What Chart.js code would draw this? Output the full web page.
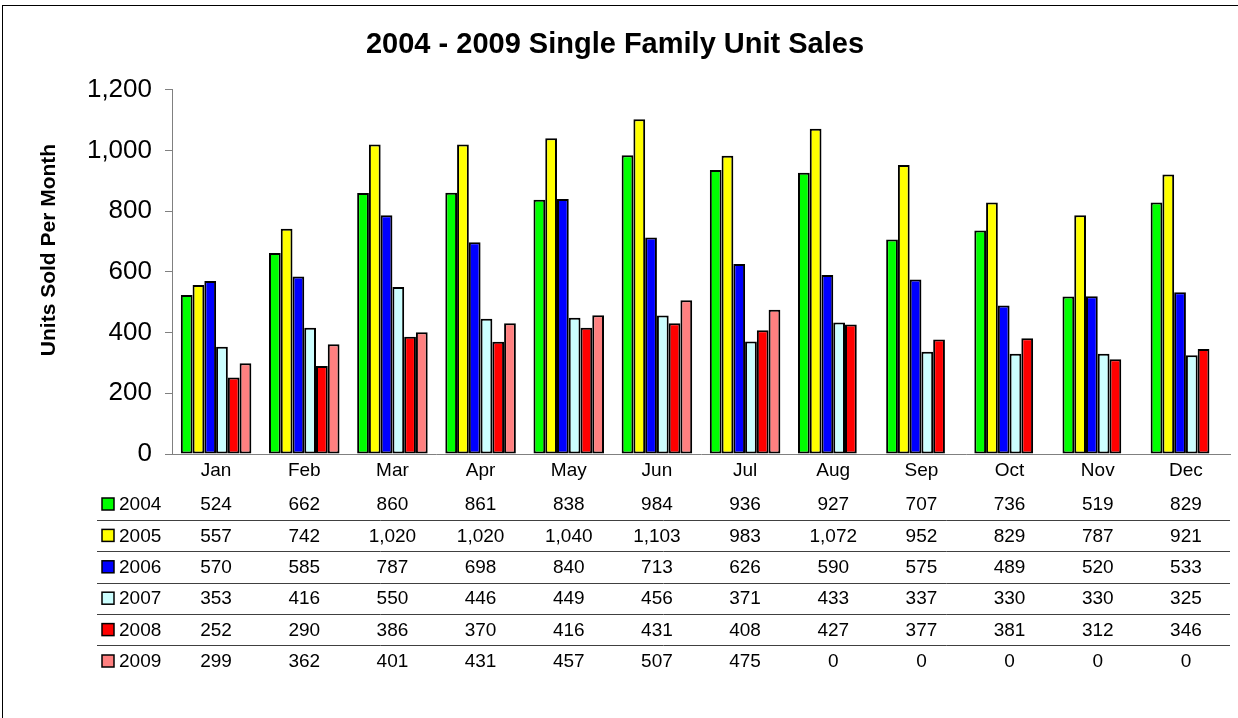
<!DOCTYPE html>
<html>
<head>
<meta charset="utf-8">
<script src="https://cdn.jsdelivr.net/npm/chart.js@4.4.1/dist/chart.umd.min.js"></script>
<style>
  html, body { margin: 0; padding: 0; background: #fff; overflow: hidden; }
  #wrap { position: relative; width: 1238px; height: 718px; }
  #frame { position: absolute; left: 2px; top: 5px; width: 1260px; height: 740px; border: 1.5px solid #000; box-sizing: border-box; pointer-events: none; }
</style>
</head>
<body>
<div id="wrap">
  <canvas id="chart" width="1238" height="718"></canvas>
  <div id="frame"></div>
</div>
<script>
// --- datos del grafico ---
const months = ['Jan', 'Feb', 'Mar', 'Apr', 'May', 'Jun', 'Jul', 'Aug', 'Sep', 'Oct', 'Nov', 'Dec'];
const years = ['2004', '2005', '2006', '2007', '2008', '2009'];
const sales2004 = [524, 662, 860, 861, 838, 984, 936, 927, 707, 736, 519, 829];
const sales2005 = [557, 742, 1020, 1020, 1040, 1103, 983, 1072, 952, 829, 787, 921];
const sales2006 = [570, 585, 787, 698, 840, 713, 626, 590, 575, 489, 520, 533];
const sales2007 = [353, 416, 550, 446, 449, 456, 371, 433, 337, 330, 330, 325];
const sales2008 = [252, 290, 386, 370, 416, 431, 408, 427, 377, 381, 312, 346];
const sales2009 = [299, 362, 401, 431, 457, 507, 475, 0, 0, 0, 0, 0];
const yTicks = [0, 200, 400, 600, 800, 1000, 1200];

const seriesValues = [sales2004, sales2005, sales2006, sales2007, sales2008, sales2009];
const seriesColors = ['#00FF00', '#FFFF00', '#0000FF', '#CCFFFF', '#FF0000', '#FF8080'];

const FONT = 'Arial, "Liberation Sans", sans-serif';
const fmt = v => v.toLocaleString('en-US');

// titulo del eje Y (un poco por encima del centro, como en el original)
const yTitlePlugin = {
  id: 'yTitle',
  afterDraw(chart) {
    const ctx = chart.ctx;
    ctx.save();
    ctx.translate(49, 250);
    ctx.rotate(-Math.PI / 2);
    ctx.font = 'bold 21px ' + FONT;
    ctx.fillStyle = '#000';
    ctx.textAlign = 'center';
    ctx.textBaseline = 'middle';
    ctx.fillText('Units Sold Per Month', 0, 0);
    ctx.restore();
  }
};

// tabla de datos debajo del eje X (leyenda + valores)
const dataTablePlugin = {
  id: 'dataTable',
  afterDraw(chart) {
    const ctx = chart.ctx;
    const x = chart.scales.x;
    const area = chart.chartArea;
    const firstRow = area.bottom + 50;
    const rowH = 31.4;
    ctx.save();
    ctx.font = '19px ' + FONT;
    ctx.textBaseline = 'middle';
    chart.data.datasets.forEach((ds, i) => {
      const y = firstRow + i * rowH;
      // cuadrito de color
      ctx.fillStyle = ds.backgroundColor;
      ctx.fillRect(102, y - 6, 12, 12);
      ctx.strokeStyle = '#000';
      ctx.lineWidth = 1.5;
      ctx.strokeRect(102, y - 6, 12, 12);
      ctx.fillStyle = '#000';
      ctx.textAlign = 'left';
      ctx.fillText(ds.label, 119, y + 1);
      ctx.textAlign = 'center';
      ds.data.forEach((v, j) => {
        ctx.fillText(fmt(v), x.getPixelForValue(j), y + 1);
      });
      // linea separadora
      if (i < chart.data.datasets.length - 1) {
        ctx.strokeStyle = '#404040';
        ctx.lineWidth = 1;
        ctx.beginPath();
        ctx.moveTo(97, Math.round(y + rowH / 2) + 0.5);
        ctx.lineTo(area.right, Math.round(y + rowH / 2) + 0.5);
        ctx.stroke();
      }
    });
    ctx.restore();
  }
};

new Chart(document.getElementById('chart'), {
  type: 'bar',
  data: {
    labels: months,
    datasets: years.map((yr, i) => ({
      label: yr,
      data: seriesValues[i],
      backgroundColor: seriesColors[i],
      borderColor: '#000',
      borderWidth: 2,
      borderSkipped: false,
      barPercentage: 1,
      categoryPercentage: 0.8
    }))
  },
  options: {
    responsive: false,
    animation: false,
    events: [],
    layout: { padding: { left: 0, right: 8, top: 0, bottom: 234 } },
    plugins: {
      legend: { display: false },
      tooltip: { enabled: false },
      title: {
        display: true,
        text: '2004 - 2009 Single Family Unit Sales',
        color: '#000',
        font: { family: FONT, size: 29, weight: 'bold' },
        padding: { top: 28, bottom: 27 }
      }
    },
    scales: {
      x: {
        grid: { display: false, drawTicks: false },
        border: { display: true, color: '#808080', width: 1 },
        ticks: { color: '#000', font: { family: FONT, size: 19 }, padding: 5 },
        afterFit(scale) { scale.height = 30; }
      },
      y: {
        min: 0,
        max: 1200,
        afterBuildTicks(scale) { scale.ticks = yTicks.map(v => ({ value: v })); },
        grid: { drawOnChartArea: false, drawTicks: true, tickLength: 7, color: '#808080' },
        border: { display: true, color: '#808080', width: 1 },
        ticks: { color: '#000', font: { family: FONT, size: 26 }, padding: 13, callback: v => fmt(v) },
        afterFit(scale) { scale.width = 172; }
      }
    }
  },
  plugins: [dataTablePlugin, yTitlePlugin]
});
</script>
</body>
</html>
